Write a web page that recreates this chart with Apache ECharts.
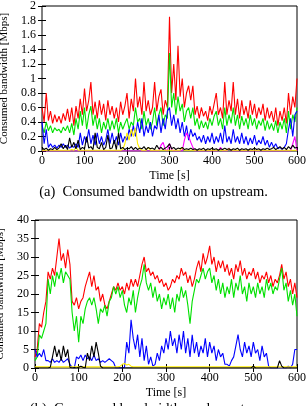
<!DOCTYPE html>
<html><head><meta charset="utf-8">
<script src="https://cdn.jsdelivr.net/npm/echarts@6/dist/echarts.min.js"></script>
<style>html,body{margin:0;padding:0;background:#fff}#c{width:307px;height:406px}</style>
</head><body><div id="c"></div>
<script>
// sampling step of the time axis (seconds)
var timeStep = 5;

// ---- (a) upstream, Mbps ----
var upRed = [0.6,0.4,0.8,0.42,0.55,0.38,0.5,0.4,0.48,0.38,0.52,0.42,0.58,0.4,0.6,0.35,0.62,0.45,0.72,0.5,0.86,0.55,0.7,0.95,0.5,0.68,0.45,0.7,0.5,0.65,0.42,0.7,0.5,0.62,0.45,0.6,0.4,0.68,0.5,0.62,0.8,0.45,0.72,0.55,1.0,0.6,0.75,0.5,0.95,0.55,0.7,0.5,0.6,0.95,0.55,0.75,0.85,0.5,0.7,0.6,1.85,0.8,1.2,0.7,1.45,0.75,1.0,0.6,0.8,0.9,0.7,0.9,0.5,0.62,0.45,0.6,0.48,0.55,0.42,0.62,0.5,0.65,0.8,0.5,0.6,0.45,0.95,0.5,0.7,0.55,0.95,0.5,0.72,0.45,0.7,0.5,0.62,0.45,0.7,0.5,0.65,0.45,0.6,0.5,0.65,0.42,0.6,0.45,0.55,0.4,0.6,0.35,0.55,0.42,0.6,0.38,0.8,0.5,0.75,0.6,1.0];
var upGreen = [0.35,0.25,0.4,0.28,0.35,0.25,0.32,0.28,0.3,0.25,0.33,0.28,0.35,0.25,0.38,0.22,0.45,0.3,0.55,0.35,0.6,0.3,0.5,0.62,0.35,0.5,0.3,0.45,0.25,0.4,0.3,0.45,0.28,0.42,0.3,0.45,0.25,0.4,0.3,0.38,0.45,0.3,0.4,0.35,0.6,0.4,0.45,0.3,0.55,0.35,0.45,0.3,0.4,0.6,0.35,0.5,0.6,0.35,0.5,0.45,1.35,0.6,0.8,0.5,0.75,0.55,0.65,0.4,0.55,0.6,0.45,0.6,0.35,0.45,0.3,0.42,0.32,0.4,0.3,0.45,0.35,0.48,0.55,0.35,0.45,0.3,0.6,0.35,0.5,0.38,0.6,0.35,0.5,0.3,0.48,0.35,0.45,0.3,0.5,0.35,0.45,0.3,0.42,0.35,0.45,0.28,0.42,0.3,0.38,0.28,0.42,0.25,0.4,0.3,0.45,0.25,0.55,0.3,0.5,0.4,0.6];
var upBlue = [0.4,0.1,0.3,0.05,0.1,0.05,0.08,0.04,0.08,0.05,0.1,0.05,0.08,0.04,0.07,0.05,0.1,0.05,0.25,0.08,0.2,0.12,0.3,0.1,0.22,0.08,0.25,0.1,0.2,0.08,0.15,0.3,0.1,0.25,0.1,0.2,0.08,0.25,0.12,0.2,0.15,0.3,0.2,0.35,0.2,0.4,0.25,0.45,0.2,0.35,0.25,0.4,0.2,0.35,0.3,0.5,0.25,0.45,0.3,0.55,0.6,0.35,0.5,0.3,0.45,0.25,0.4,0.2,0.35,0.15,0.3,0.2,0.25,0.15,0.2,0.12,0.22,0.1,0.2,0.12,0.25,0.1,0.2,0.12,0.25,0.1,0.35,0.12,0.2,0.1,0.3,0.12,0.2,0.1,0.25,0.1,0.2,0.08,0.18,0.1,0.22,0.08,0.15,0.1,0.2,0.08,0.15,0.05,0.12,0.05,0.1,0.03,0.05,0.02,0.05,0.1,0.3,0.45,0.2,0.5,0.55];
var upMagenta = [0,0,0,0,0,0,0,0,0,0,0,0,0,0,0,0,0,0,0,0,0,0,0,0,0,0,0,0,0,0,0,0,0,0,0,0,0,0,0,0,0,0,0,0,0,0,0,0,0,0,0,0,0,0,0,0,0.08,0.12,0.02,0,0.1,0.02,0,0,0,0,0,0.15,0.25,0.2,0.12,0.05,0,0,0,0,0,0,0,0,0,0,0,0,0.05,0,0,0,0.04,0,0,0,0,0,0,0,0,0,0,0,0,0,0,0,0,0,0,0,0,0,0,0,0,0,0,0,0,0,0.1,0.2,0];
var upYellow = [0.01,0.01,0.01,0.01,0.01,0.01,0.01,0.01,0.01,0.01,0.01,0.01,0.01,0.01,0.02,0.01,0.05,0.01,0.01,0.01,0.01,0.01,0.01,0.01,0.01,0.01,0.01,0.01,0.01,0.01,0.01,0.01,0.01,0.01,0.01,0.01,0.01,0.01,0.02,0.1,0.25,0.15,0.3,0.2,0.32,0.1,0.03,0.01,0.01,0.01,0.05,0.01,0.01,0.01,0.01,0.01,0.01,0.01,0.01,0.01,0.01,0.01,0.01,0.01,0.01,0.01,0.05,0.01,0.01,0.01,0.01,0.01,0.01,0.01,0.01,0.01,0.01,0.01,0.01,0.01,0.01,0.01,0.01,0.01,0.01,0.01,0.01,0.01,0.03,0.01,0.01,0.01,0.01,0.01,0.01,0.01,0.01,0.01,0.01,0.01,0.01,0.01,0.01,0.01,0.01,0.01,0.01,0.01,0.01,0.01,0.01,0.01,0.01,0.01,0.01,0.01,0.01,0.01,0.01,0.01,0.01];
var upBlack = [0.05,0.02,0.04,0.01,0.03,0.02,0.05,0.02,0.04,0.1,0.03,0.08,0.02,0.18,0.05,0.12,0.03,0.15,0.02,0.05,0.03,0.2,0.04,0.06,0.02,0.25,0.05,0.03,0.12,0.02,0.05,0.22,0.03,0.04,0.15,0.02,0.25,0.03,0.05,0.02,0.04,0.03,0.06,0.02,0.05,0.02,0.04,0.03,0.06,0.02,0.05,0.03,0.04,0.02,0.08,0.03,0.05,0.02,0.04,0.06,0.1,0.03,0.05,0.02,0.04,0.03,0.05,0.02,0.03,0.02,0.04,0.02,0.03,0.01,0.03,0.02,0.04,0.01,0.03,0.02,0.04,0.02,0.03,0.01,0.03,0.02,0.04,0.02,0.03,0.01,0.03,0.02,0.04,0.01,0.03,0.02,0.03,0.01,0.03,0.02,0.04,0.02,0.03,0.01,0.03,0.02,0.04,0.02,0.03,0.05,0.02,0.04,0.06,0.03,0.05,0.02,0.06,0.03,0.08,0.04,0.05];

// ---- (b) downstream, Mbps ----
var dnRed = [3,5,12,11,15,18,26,24,27,25,30,35,29,31,27,32,28,18,17,19,16,18,19,22,24,26,22,25,21,22,18,20,17,16,18,20,22,21,23,21,22,20,23,21,24,22,24,22,25,28,30,26,27,25,26,24,25,23,24,22,23,21,22,24,23,25,24,27,25,26,23,25,22,24,27,29,26,31,28,30,33,28,30,26,29,27,29,26,28,25,27,24,28,26,29,25,27,24,26,25,27,24,26,23,25,24,26,23,25,22,24,23,25,28,24,26,22,24,20,23,19];
var dnGreen = [2,3,9,8,10,12,24,20,25,22,26,24,27,23,26,25,24,15,10,14,7,14,12,16,18,19,17,19,16,12,16,15,17,14,18,19,22,20,22,19,21,17,15,19,17,21,15,19,22,24,28,23,21,23,19,22,18,20,16,19,17,20,16,19,15,20,18,22,19,21,17,12,18,21,24,23,25,27,24,26,27,23,25,21,24,20,23,19,22,20,24,19,23,21,25,20,22,18,23,20,22,19,23,20,22,19,24,21,23,20,22,21,24,27,21,23,18,21,17,20,14];
var dnBlue = [5,3,4,3,5,2,2,1.5,2.5,1.5,2,1.5,2.5,1.5,2,2.5,1,0.2,0,3,2.5,3.5,2,3.5,2.5,3,2,3.5,2,2.5,1.5,2,1.5,2,2.5,2,1.5,0,0,0,0,0.2,7,4,13,8,5,9,3,8,2,6,1,3,0.5,1,4,2,6,4,8,5,10,6,8,4,9,5,10,4,8,3,9,4,7,3,6,4,8,3,7,4,6,2,5,3,4,1,1,0.5,2,3,6,9,5,3,7,4,6,3,7,4,5,2,6,3,4,0.5,0,0,0,0,0,0,0,0,0.5,0,1,5,5];
var dnYellow = [0.3,0.3,0.3,0.3,0.3,0.3,0.3,0.3,0.3,0.3,0.3,0.3,0.3,0.3,0.3,0.3,0.3,0.3,0.3,0.3,0.3,0.3,0.3,0.3,0.3,0.3,0.3,0.3,0.3,0.3,0.3,0.3,0.3,0.3,0.3,0.3,0.3,0.3,0.3,0.5,1,1.2,0.8,1,0.5,0.3,0.3,0.3,0.3,0.3,0.3,0.3,0.3,0.3,0.3,0.3,0.3,0.3,0.3,0.3,0.3,0.3,0.3,0.3,0.3,0.3,0.3,0.3,0.3,0.3,0.3,0.3,0.3,0.3,0.3,0.3,0.3,0.3,0.3,0.3,0.3,0.3,0.3,0.3,0.3,0.3,0.3,0.3,0.3,0.3,0.3,0.3,0.3,0.3,0.3,0.3,0.3,0.3,0.3,0.3,0.3,0.3,0.3,0.3,0.3,0.3,0.3,0.3,0.3,0.3,0.3,0.3,0.3,0.3,0.3,0.3,0.3,0.3,0.3,0.3,0.3];
var dnBlack = [0,0,0,0,0,0,0,0.2,3,6,3,5,2,6,3,5,0.2,0,0.1,0,0.2,0.5,0.2,0,4,2,6,3,7,4,0.5,0,0,0,0,0,0,0,0,0,0,0,0,0,0,0,0,0,0,0,0,0,0,0,0,0,0,0,0,0,0,0,0,0,0,0,0,0,0,0,0,0,0,0,0,0,0,0,0,0,0,0,0,0,0,0,0,0,0,0,0,0,0,0,0,0,0,0,0,0,0.5,0,0,0,0,0,0,0,0,0,0,0,2,0.5,0,0,0,0,0,0,0];

var FONT = 'Liberation Serif';
function pts(arr){ return arr.map(function(v,i){ return [i*timeStep, v]; }); }
function ln(data, color, g){
  return {type:'line', xAxisIndex:g*2, yAxisIndex:g*2, data:pts(data), showSymbol:false, symbol:'none',
    lineStyle:{color:color, width:1.1}, itemStyle:{color:color}, animation:false, z:2};
}
function xAx(g, top){
  return {type:'value', gridIndex:g, position: top?'top':'bottom', min:0, max:600, interval:100,
    axisLine:{show:false}, splitLine:{show:false},
    axisTick:{show:true, inside:true, length:4, lineStyle:{color:'#000'}},
    axisLabel:{show:!top, color:'#000', fontFamily:FONT, fontSize:12, margin:4},
    name: top?'':'Time [s]', nameLocation:'middle', nameGap:19,
    nameTextStyle:{color:'#000', fontFamily:FONT, fontSize:12}};
}
function yAx(g, right, max, iv, gap){
  return {type:'value', gridIndex:g, position: right?'right':'left', min:0, max:max, interval:iv,
    axisLine:{show:false}, splitLine:{show:false},
    axisTick:{show:true, inside:true, length:4, lineStyle:{color:'#000'}},
    axisLabel:{show:!right, color:'#000', fontFamily:FONT, fontSize:12, margin:6},
    name: right?'':'Consumed bandwidth [Mbps]', nameLocation:'middle', nameGap:gap,
    nameTextStyle:{color:'#000', fontFamily:FONT, fontSize:11}};
}
var chart = echarts.init(document.getElementById('c'), null, {renderer:'canvas'});
chart.setOption({
  animation:false,
  grid:[
    {left:42, right:10, top:6, height:145, outerBoundsMode:'none', containLabel:false, show:true, borderColor:'#000', borderWidth:1, backgroundColor:'transparent'},
    {left:35, right:10, top:220, height:148, outerBoundsMode:'none', containLabel:false, show:true, borderColor:'#000', borderWidth:1, backgroundColor:'transparent'}
  ],
  xAxis:[xAx(0,false), xAx(0,true), xAx(1,false), xAx(1,true)],
  yAxis:[yAx(0,false,2,0.2,26), yAx(0,true,2,0.2,0), yAx(1,false,40,5,19), yAx(1,true,40,5,0)],
  series:[
    ln(upRed,'#ff0000',0), ln(upGreen,'#00e000',0), ln(upBlue,'#0000ff',0),
    ln(upMagenta,'#ff00ff',0), ln(upYellow,'#ffee00',0), ln(upBlack,'#000000',0),
    ln(dnRed,'#ff0000',1), ln(dnGreen,'#00e000',1), ln(dnBlue,'#0000ff',1),
    ln(dnYellow,'#ffee00',1), ln(dnBlack,'#000000',1)
  ],
  graphic:[
    {type:'text', left:'center', top:185, style:{text:'(a)  Consumed bandwidth on upstream.', fill:'#000', font:'14.5px "Liberation Serif"'}},
    {type:'text', left:'center', top:402, style:{text:'(b)  Consumed bandwidth on downstream.', fill:'#000', font:'14.5px "Liberation Serif"'}}
  ]
});
</script></body></html>
